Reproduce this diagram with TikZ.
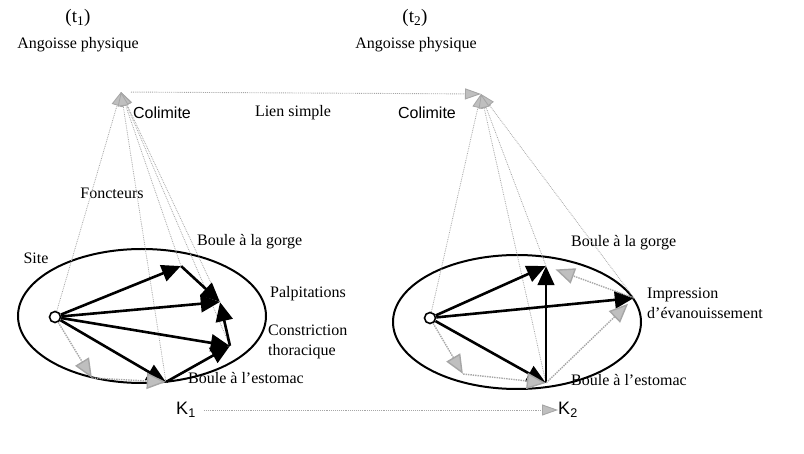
\documentclass[tikz,border=0pt]{standalone}
\usepackage{fontspec}
\setmainfont{Liberation Serif}
\setsansfont{Liberation Sans}
\usetikzlibrary{arrows.meta,shapes.geometric}

\begin{document}
\begin{tikzpicture}[x=1pt,y=-1pt,
  lbl/.style={font=\fontsize{16}{20}\selectfont, inner sep=0pt},
  slbl/.style={font=\sffamily\fontsize{16}{18}\selectfont, inner sep=0pt},
  site/.style={draw, ellipse, line width=2pt, minimum width=248pt, minimum height=134pt, inner sep=0pt},
  pt/.style={inner sep=0pt, minimum size=0pt},
  orig/.style={draw, circle, line width=1.6pt, minimum size=11pt, inner sep=0pt, fill=white},
  fleche/.style={line width=2.6pt, -{Triangle[length=19pt,width=17pt]}},
  grise/.style={color=gray!70, densely dotted, line width=1.4pt, -{Triangle[length=19pt,width=16pt,fill=gray!50]}},
  fonct/.style={color=gray!70, densely dotted, line width=0.8pt, -{Triangle[length=14pt,width=11pt,fill=gray!50]}},
  lien/.style={color=gray!70, densely dotted, line width=0.9pt, -{Triangle[length=16pt,width=11pt,fill=gray!50]}}]
\useasboundingbox (0,0) rectangle (804,454);

% titres
\node[lbl, font=\fontsize{19}{20}\selectfont] (T1) at (78,18) {(t\textsubscript{1})};
\node[lbl] (Ang1) at (78,45) {Angoisse physique};
\node[lbl, font=\fontsize{19}{20}\selectfont] (T2) at (415,18) {(t\textsubscript{2})};
\node[lbl] (Ang2) at (416,45) {Angoisse physique};
\coordinate (A1) at (121,92);
\coordinate (A2) at (481,94);
\node[slbl] (Col1) at (162,113) {Colimite};
\node[lbl] (Lien) at (293,113) {Lien simple};
\node[slbl] (Col2) at (427,113) {Colimite};
\node[lbl] (Fonc) at (112,193) {Foncteurs};
\node[lbl] (Site) at (36,258) {Site};

% site K1
\node[site] (S1) at (142,316) {};
\node[orig] (O1) at (55,317) {};
\node[pt] (B1) at (181,266) {};
\node[pt] (P1) at (220,302) {};
\node[pt] (C1) at (230,346) {};
\node[pt] (E1) at (166,382) {};
\node[pt] (X1) at (92,378) {};
\node[lbl, anchor=west] (LB1) at (197,242) {Boule à la gorge};
\node[lbl, anchor=west] (LP1) at (270,294) {Palpitations};
\node[lbl, anchor=west, align=left] (LC1) at (268,342) {Constriction\\thoracique};
\node[lbl, anchor=west] (LE1) at (188,378) {Boule à l’estomac};

% site K2
\node[site] (S2) at (517,322) {};
\node[orig] (O2) at (430,318) {};
\node[pt] (B2) at (546,266) {};
\node[pt] (I2) at (634,298) {};
\node[pt] (E2) at (546,383) {};
\node[pt] (X2) at (463,374) {};
\node[lbl, anchor=west] (LB2) at (571,243) {Boule à la gorge};
\node[lbl, anchor=west, align=left] (LI2) at (647,303) {Impression\\d’évanouissement};
\node[lbl, anchor=west] (LE2) at (571,380) {Boule à l’estomac};

\node[slbl, font=\sffamily\fontsize{18}{18}\selectfont] (K1) at (186,410) {K\textsubscript{1}};
\node[slbl, font=\sffamily\fontsize{18}{18}\selectfont] (K2) at (568,410) {K\textsubscript{2}};

% foncteurs vers les colimites
\path[fonct] (O1) edge (A1) (B1) edge (A1) (P1) edge (A1) (C1) edge (A1) (E1) edge (A1);
\path[fonct] (O2) edge (A2) (B2) edge (A2) (I2) edge (A2) (E2) edge (A2);

% liens
\path[fleche] (O1) edge (B1) (O1) edge (P1) (O1) edge (C1) (O1) edge (E1);
\path[fleche] (B1) edge (P1) (E1) edge (C1) (C1) edge (P1);
\path[grise] (O1) edge (X1) (X1) edge (E1);

\path[fleche] (O2) edge (B2) (O2) edge (I2) (O2) edge (E2);
\path[fleche, line width=1.5pt] (E2) edge (B2);
\path[grise] (O2) edge (X2) (X2) edge (E2);
\path[grise] (E2) edge[shorten >=8pt] (I2) (I2) edge[shorten >=10pt] (B2);

\path[lien] (A1) edge[shorten <=10pt] (A2);
\path[lien] (K1) edge[shorten <=8pt] (K2);
\end{tikzpicture}
\end{document}
